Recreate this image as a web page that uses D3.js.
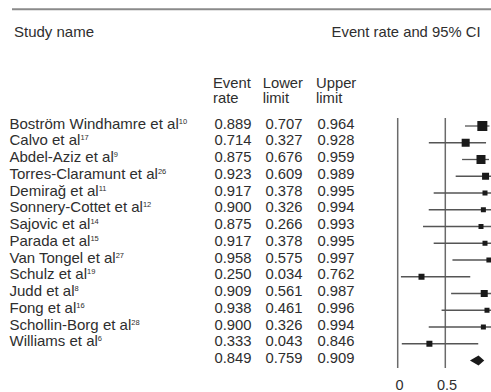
<!DOCTYPE html>
<html>
<head>
<meta charset="utf-8">
<script src="https://cdn.jsdelivr.net/npm/d3@7"></script>
<style>
  html, body { margin: 0; padding: 0; background: #fff; }
  svg { display: block; }
  text { font-family: "Liberation Sans", Arial, Helvetica, sans-serif; fill: #2e2e2e; }
</style>
</head>
<body>
<svg id="chart" width="491" height="392"></svg>
<script>
// Studies in the meta-analysis and their event rates with 95% CI
const studies = [
  "Boström Windhamre et al", "Calvo et al", "Abdel-Aziz et al", "Torres-Claramunt et al",
  "Demirağ et al", "Sonnery-Cottet et al", "Sajovic et al", "Parada et al",
  "Van Tongel et al", "Schulz et al", "Judd et al", "Fong et al",
  "Schollin-Borg et al", "Williams et al"
];
const refs = ["10", "17", "9", "26", "11", "12", "14", "15", "27", "19", "8", "16", "28", "6"];
const eventRate = [0.889, 0.714, 0.875, 0.923, 0.917, 0.900, 0.875, 0.917, 0.958, 0.250, 0.909, 0.938, 0.900, 0.333];
const lowerLimit = [0.707, 0.327, 0.676, 0.609, 0.378, 0.326, 0.266, 0.378, 0.575, 0.034, 0.561, 0.461, 0.326, 0.043];
const upperLimit = [0.964, 0.928, 0.959, 0.989, 0.995, 0.994, 0.993, 0.995, 0.997, 0.762, 0.987, 0.996, 0.994, 0.846];
// Relative study weights (box size)
const weights = [10, 8, 9, 7, 5, 5, 5, 5, 5, 6, 7, 5, 5, 6];
// Pooled estimate
const pooled = { rate: 0.849, lower: 0.759, upper: 0.909 };
const tickValues = [0, 0.5];
const tickLabels = ["0", "0.5"];

const svg = d3.select("#chart");

const fmt = d3.format(".3f");
const rowStart = 128.5, rowStep = 16.75;
const nRows = studies.length + 1;
const y = d3.scaleLinear().domain([0, nRows - 1]).range([rowStart, rowStart + rowStep * (nRows - 1)]);
const x = d3.scaleLinear().domain([0, 1]).range([397.7, 492.9]);
const boxSize = d3.scaleLinear().domain([5, 10]).range([5, 10]);

// Top rule
svg.append("line")
  .attr("x1", 12).attr("x2", 491).attr("y1", 9.3).attr("y2", 9.3)
  .attr("stroke", "#8a8a8a").attr("stroke-width", 2);

// Headers
svg.append("text").attr("x", 14).attr("y", 36.7).attr("font-size", 15).text("Study name");
svg.append("text").attr("x", 480.5).attr("y", 36.7).attr("font-size", 14.8)
  .attr("text-anchor", "end").text("Event rate and 95% CI");

const colX = [214.5, 265.5, 317.5];
const colHead = [["Event", "rate"], ["Lower", "limit"], ["Upper", "limit"]];
const headX = [213, 262.7, 316];
colHead.forEach((h, i) => {
  svg.append("text").attr("x", headX[i]).attr("y", 88).attr("font-size", 14.8).text(h[0]);
  svg.append("text").attr("x", headX[i]).attr("y", 103).attr("font-size", 14.8).text(h[1]);
});

// Study labels with superscript reference numbers
const names = svg.append("g");
studies.forEach((s, i) => {
  const t = names.append("text").attr("x", 9.5).attr("y", y(i)).attr("font-size", 15);
  t.append("tspan").text(s);
  t.append("tspan").attr("font-size", 7.5).attr("dy", -5).text(refs[i]);
});

// Numeric columns
const cols = [eventRate, lowerLimit, upperLimit];
const pooledCols = [pooled.rate, pooled.lower, pooled.upper];
cols.forEach((vals, c) => {
  svg.append("g").selectAll("text").data(vals.concat([pooledCols[c]])).join("text")
    .attr("x", colX[c]).attr("y", (d, i) => y(i)).attr("font-size", 14.8)
    .text(d => fmt(d));
});

// Reference lines at 0 and 0.5
svg.append("g").selectAll("line").data(tickValues).join("line")
  .attr("x1", d => x(d)).attr("x2", d => x(d))
  .attr("y1", 118).attr("y2", 368)
  .attr("stroke", "#6a6a6a").attr("stroke-width", 1.5);

// Axis labels
const axis = d3.axisBottom(x).tickValues(tickValues).tickSize(0)
  .tickFormat((d, i) => tickLabels[i]);
const axisG = svg.append("g").attr("transform", "translate(1.3,377)").call(axis);
axisG.select(".domain").remove();
axisG.selectAll("text").attr("font-size", 14.5).attr("fill", "#444")
  .attr("font-family", "'Liberation Sans', Arial, sans-serif").attr("dy", "0.71em");

// Confidence intervals and point estimates
const markY = i => y(i) - 2.5;
const plot = svg.append("g");
plot.selectAll("line.ci").data(eventRate).join("line").attr("class", "ci")
  .attr("x1", (d, i) => x(lowerLimit[i])).attr("x2", (d, i) => x(upperLimit[i]))
  .attr("y1", (d, i) => markY(i)).attr("y2", (d, i) => markY(i))
  .attr("stroke", "#555").attr("stroke-width", 1.3);
plot.selectAll("rect").data(eventRate).join("rect")
  .attr("x", (d, i) => x(d) - boxSize(weights[i]) / 2)
  .attr("y", (d, i) => markY(i) - boxSize(weights[i]) / 2)
  .attr("width", (d, i) => boxSize(weights[i]))
  .attr("height", (d, i) => boxSize(weights[i]))
  .attr("fill", "#1a1a1a");

// Pooled diamond
const py = markY(studies.length);
plot.append("path")
  .attr("d", `M${x(pooled.lower)},${py}L${x(pooled.rate)},${py - 5}L${x(pooled.upper)},${py}L${x(pooled.rate)},${py + 5}Z`)
  .attr("fill", "#1a1a1a");
</script>
</body>
</html>
